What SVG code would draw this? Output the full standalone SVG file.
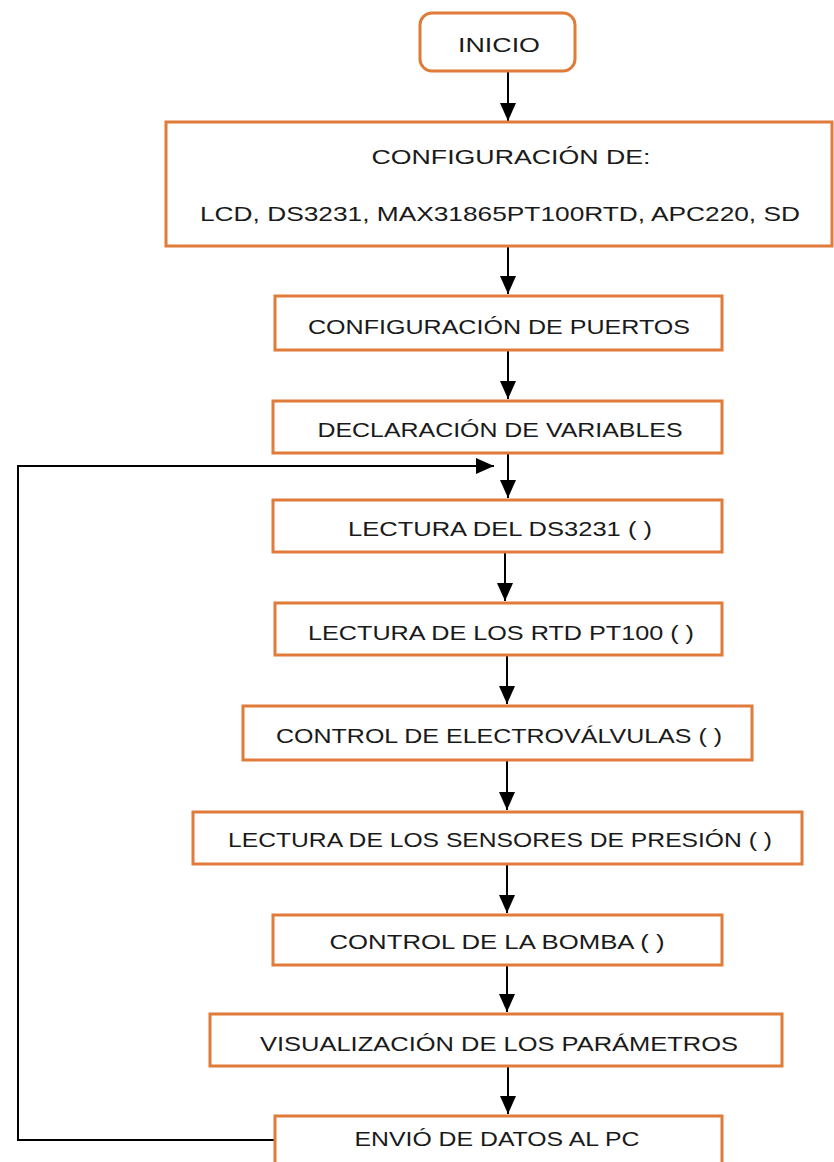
<svg xmlns="http://www.w3.org/2000/svg" width="834" height="1162" viewBox="0 0 834 1162">
<style>
.box{fill:#fff;stroke:#E07B39;stroke-width:3}
.t{font-family:"Liberation Sans",Arial,sans-serif;font-size:21px;fill:#1a1a1a;text-anchor:middle;dominant-baseline:central}
.c{fill:none;stroke:#000;stroke-width:2}
</style>
<defs>
<marker id="ah2" viewBox="0 0 10 10" refX="10" refY="5" markerWidth="18" markerHeight="16" markerUnits="userSpaceOnUse" orient="auto" preserveAspectRatio="none">
<path d="M0,0 L10,5 L0,10 z" fill="#000"/>
</marker>
</defs>
<rect width="834" height="1162" fill="#fff"/>
<g id="connectors">
<line class="c" x1="508" y1="71" x2="508" y2="121" marker-end="url(#ah2)"/>
<line class="c" x1="508" y1="246" x2="508" y2="294" marker-end="url(#ah2)"/>
<line class="c" x1="508" y1="350" x2="508" y2="399" marker-end="url(#ah2)"/>
<line class="c" x1="508" y1="453" x2="508" y2="498" marker-end="url(#ah2)"/>
<line class="c" x1="505" y1="552" x2="505" y2="601" marker-end="url(#ah2)"/>
<line class="c" x1="507" y1="655" x2="507" y2="704" marker-end="url(#ah2)"/>
<line class="c" x1="507" y1="760" x2="507" y2="810" marker-end="url(#ah2)"/>
<line class="c" x1="507" y1="864" x2="507" y2="913" marker-end="url(#ah2)"/>
<line class="c" x1="507" y1="965" x2="507" y2="1012" marker-end="url(#ah2)"/>
<line class="c" x1="508" y1="1066" x2="508" y2="1114" marker-end="url(#ah2)"/>
<polyline class="c" points="275,1140 18,1140 18,466 494,466" marker-end="url(#ah2)"/>
</g>
<g id="inicio"><rect class="box" x="420" y="13" width="155" height="58" rx="12"/><text class="t" x="499" y="44" textLength="82" lengthAdjust="spacingAndGlyphs">INICIO</text></g>
<g id="config"><rect class="box" x="166" y="122" width="666" height="124"/><text class="t" x="511" y="156" textLength="279" lengthAdjust="spacingAndGlyphs">CONFIGURACIÓN DE:</text><text class="t" x="500" y="213" textLength="600" lengthAdjust="spacingAndGlyphs">LCD, DS3231, MAX31865PT100RTD, APC220, SD</text></g>
<g id="puertos"><rect class="box" x="275" y="296" width="447" height="54"/><text class="t" x="499" y="326" textLength="382" lengthAdjust="spacingAndGlyphs">CONFIGURACIÓN DE PUERTOS</text></g>
<g id="declaracion"><rect class="box" x="273" y="401" width="449" height="52"/><text class="t" x="500" y="429" textLength="365" lengthAdjust="spacingAndGlyphs">DECLARACIÓN DE VARIABLES</text></g>
<g id="ds3231"><rect class="box" x="273" y="500" width="449" height="52"/><text class="t" x="500" y="528" textLength="304" lengthAdjust="spacingAndGlyphs">LECTURA DEL DS3231 ( )</text></g>
<g id="rtd"><rect class="box" x="275" y="603" width="447" height="52"/><text class="t" x="501" y="632" textLength="386" lengthAdjust="spacingAndGlyphs">LECTURA DE LOS RTD PT100 ( )</text></g>
<g id="electro"><rect class="box" x="243" y="706" width="509" height="54"/><text class="t" x="499" y="735" textLength="446" lengthAdjust="spacingAndGlyphs">CONTROL DE ELECTROVÁLVULAS ( )</text></g>
<g id="presion"><rect class="box" x="193" y="812" width="609" height="52"/><text class="t" x="500" y="839" textLength="544" lengthAdjust="spacingAndGlyphs">LECTURA DE LOS SENSORES DE PRESIÓN  ( )</text></g>
<g id="bomba"><rect class="box" x="273" y="915" width="449" height="50"/><text class="t" x="497" y="941" textLength="335" lengthAdjust="spacingAndGlyphs">CONTROL DE LA BOMBA ( )</text></g>
<g id="visual"><rect class="box" x="210" y="1014" width="572" height="52"/><text class="t" x="499" y="1043" textLength="478" lengthAdjust="spacingAndGlyphs">VISUALIZACIÓN DE LOS PARÁMETROS</text></g>
<g id="envio"><rect class="box" x="275" y="1116" width="447" height="50"/><text class="t" x="497" y="1138" textLength="285" lengthAdjust="spacingAndGlyphs">ENVIÓ DE DATOS AL PC</text></g>
</svg>
